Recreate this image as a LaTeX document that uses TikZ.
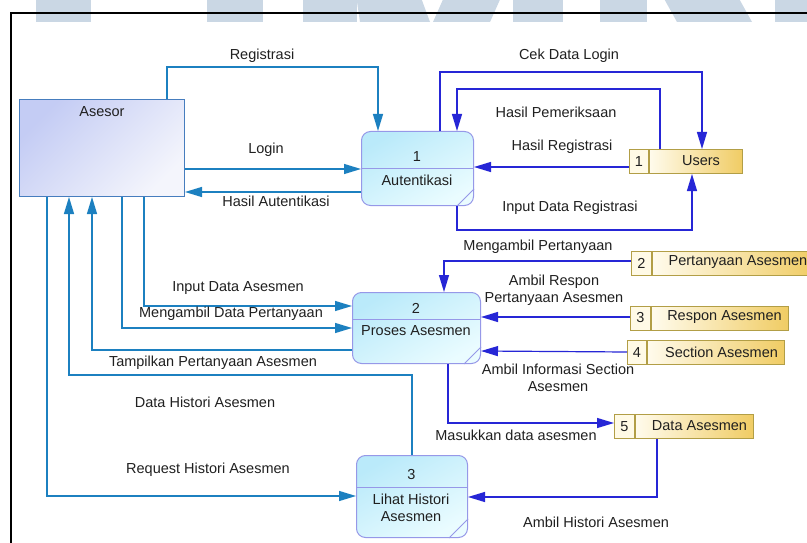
\documentclass[tikz,border=0pt]{standalone}
\usepackage{fontspec}
\setmainfont{Liberation Sans}
\usetikzlibrary{arrows.meta,shadings}

\definecolor{flowteal}{RGB}{28,128,192}
\definecolor{flowblue}{RGB}{38,38,214}
\definecolor{procedge}{RGB}{150,152,232}
\definecolor{proctop}{RGB}{186,234,250}
\definecolor{procbot}{RGB}{234,252,255}
\definecolor{extedge}{RGB}{70,125,190}
\definecolor{exttop}{RGB}{196,204,244}
\definecolor{extbot}{RGB}{244,245,252}
\definecolor{storeedge}{RGB}{178,158,70}
\definecolor{storeleft}{RGB}{255,251,236}
\definecolor{storeright}{RGB}{240,204,100}
\definecolor{storeidfill}{RGB}{255,250,230}
\definecolor{logomark}{RGB}{202,215,228}
\definecolor{ink}{RGB}{32,32,32}

\tikzset{
  txt/.style={font=\fontsize{14.5}{17}\selectfont, text=ink, inner sep=0pt, align=center},
  extent/.style={draw=extedge, line width=1pt, top color=exttop, bottom color=extbot,
    shading angle=45, inner sep=0pt, anchor=north west},
  proc/.style={draw=procedge, line width=1pt, rounded corners=9pt, top color=proctop,
    bottom color=procbot, shading angle=30, inner sep=0pt, anchor=north west},
  procline/.style={draw=procedge, line width=1pt},
  storebox/.style={draw=storeedge, line width=1pt, left color=storeleft, right color=storeright,
    minimum height=24pt, inner sep=0pt, anchor=north west},
  storeidbox/.style={draw=storeedge, line width=1pt, fill=storeidfill, minimum height=24pt,
    minimum width=19pt, inner sep=0pt, anchor=north east},
  flowA/.style={draw=flowteal, line width=1.2pt, -{Triangle[length=17pt,width=10pt]}},
  flowB/.style={draw=flowblue, line width=1.2pt, -{Triangle[length=17pt,width=10pt]}},
}

\begin{document}
\begin{tikzpicture}[x=1pt,y=-1pt]
\useasboundingbox (0,0) rectangle (807,543);
\fill[white] (0,0) rectangle (807,543);

% logo strip along the top edge
\fill[logomark] (36,-5) rectangle (91,22);
\fill[logomark] (207,-5) rectangle (263,22);
\fill[logomark] (303,-5) rectangle (357,22);
\fill[logomark] (356,-5) -- (420,-5) -- (430,22) -- (360,22) -- cycle;
\fill[logomark] (445,-5) -- (502,-5) -- (490,22) -- (433,22) -- cycle;
\fill[logomark] (513,-5) rectangle (563,22);
\fill[logomark] (600,-5) rectangle (647,22);
\fill[logomark] (662,-5) -- (737,-5) -- (752,22) -- (677,22) -- cycle;
\fill[logomark] (775,-5) rectangle (812,22);

% page frame
\draw[black, line width=1.2pt] (11,550) -- (11,13) -- (815,13);

% external entity
\node[extent, minimum width=165pt, minimum height=97pt] (asesor) at (19,99) {};
\node[txt] (asesorname) at (102,112) {Asesor};

% process 1
\node[proc, minimum width=112pt, minimum height=74pt] (p1) at (361,131) {};
\draw[procline] (p1.west |- 0,168) -- (p1.east |- 0,168);
\draw[procline] ([yshift=17pt]p1.south east) -- ([xshift=-17pt]p1.south east);
\node[txt] (p1num) at (417,157) {1};
\node[txt] (p1name) at (417,180) {Autentikasi};

% process 2
\node[proc, minimum width=128pt, minimum height=71pt] (p2) at (352,292) {};
\draw[procline] (p2.west |- 0,319) -- (p2.east |- 0,319);
\draw[procline] ([yshift=17pt]p2.south east) -- ([xshift=-17pt]p2.south east);
\node[txt] (p2num) at (416,308) {2};
\node[txt] (p2name) at (416,331) {Proses Asesmen};

% process 3
\node[proc, minimum width=111pt, minimum height=82pt] (p3) at (356,455) {};
\draw[procline] (p3.west |- 0,487) -- (p3.east |- 0,487);
\draw[procline] ([yshift=19pt]p3.south east) -- ([xshift=-19pt]p3.south east);
\node[txt] (p3num) at (411.5,475) {3};
\node[txt] (p3name) at (411,508) {Lihat Histori\\Asesmen};

% data stores
\node[storebox, minimum width=93pt] (s1) at (649,149) {};
\node[storeidbox] (s1id) at (s1.north west) {};
\node[txt] (s1num) at (s1id.center) {1};
\node[txt] (s1name) at (701,161) {Users};

\node[storebox, minimum width=162pt] (s2) at (652,250.5) {};
\node[storeidbox, minimum width=20pt] (s2id) at (s2.north west) {};
\node[txt] (s2num) at (s2id.center) {2};
\node[txt] (s2name) at (738,262.5) {Pertanyaan Asesmen};

\node[storebox, minimum width=137pt] (s3) at (651,305.5) {};
\node[storeidbox, minimum width=20pt] (s3id) at (s3.north west) {};
\node[txt] (s3num) at (s3id.center) {3};
\node[txt] (s3name) at (724.5,317.5) {Respon Asesmen};

\node[storebox, minimum width=137pt] (s4) at (647,340) {};
\node[storeidbox] (s4id) at (s4.north west) {};
\node[txt] (s4num) at (s4id.center) {4};
\node[txt] (s4name) at (721.5,352) {Section Asesmen};

\node[storebox, minimum width=118pt] (s5) at (635,414) {};
\node[storeidbox, minimum width=20pt] (s5id) at (s5.north west) {};
\node[txt] (s5num) at (s5id.center) {5};
\node[txt] (s5name) at (699.5,426) {Data Asesmen};

% flows between the entity and the processes
\draw[flowA] (167,0 |- asesor.north) |- (378,67) -- (378,0 |- p1.north);
\draw[flowA] (asesor.east |- 0,169) -- (p1.west |- 0,169);
\draw[flowA] (p1.west |- 0,192) -- (asesor.east |- 0,192);
\draw[flowA] (144,0 |- asesor.south) |- (p2.west |- 0,306);
\draw[flowA] (122,0 |- asesor.south) |- (p2.west |- 0,328);
\draw[flowA] (p2.west |- 0,350) -| (92,0 |- asesor.south);
\draw[flowA] (412,0 |- p3.north) |- (69,375) -- (69,0 |- asesor.south);
\draw[flowA] (47,0 |- asesor.south) |- (p3.west |- 0,496);

% flows between the processes and the stores
\draw[flowB] (440,0 |- p1.north) |- (702,72) -- (702,0 |- s1.north);
\draw[flowB] (660,0 |- s1.north) |- (457,89) -- (457,0 |- p1.north);
\draw[flowB] (s1id.west |- 0,167) -- (p1.east |- 0,167);
\draw[flowB] (457,0 |- p1.south) |- (692,230) -- (692,0 |- s1.south);
\draw[flowB] (s2id.west |- 0,261) -| (444,0 |- p2.north);
\draw[flowB] (s3id.west |- 0,317) -- (p2.east |- 0,317);
\draw[flowB] (s4id.west |- 0,352) -- (p2.east |- 0,351);
\draw[flowB] (448,0 |- p2.south) |- (s5id.west |- 0,423);
\draw[flowB] (657,0 |- s5.south) |- (p3.east |- 0,497);

% flow labels
\node[txt] (lregistrasi) at (262,56) {Registrasi};
\node[txt] (llogin) at (266,150) {Login};
\node[txt] (lhasilaut) at (276,201) {Hasil Autentikasi};
\node[txt] (lcek) at (569,56) {Cek Data Login};
\node[txt] (lperiksa) at (556,112) {Hasil Pemeriksaan};
\node[txt] (lhasilreg) at (562,147) {Hasil Registrasi};
\node[txt] (linputreg) at (570,208) {Input Data Registrasi};
\node[txt] (lambiltanya) at (538,247) {Mengambil Pertanyaan};
\node[txt] (lrespon) at (554,290.5) {Ambil Respon\\Pertanyaan Asesmen};
\node[txt] (lsection) at (558,378) {Ambil Informasi Section\\Asesmen};
\node[txt] (lmasuk) at (516,435) {Masukkan data asesmen};
\node[txt] (lambilhist) at (596,522) {Ambil Histori Asesmen};
\node[txt] (lrequest) at (208,470) {Request Histori Asesmen};
\node[txt] (ldatahist) at (205,402) {Data Histori Asesmen};
\node[txt] (ltampil) at (213,363) {Tampilkan Pertanyaan Asesmen};
\node[txt] (linputases) at (238,288) {Input Data Asesmen};
\node[txt] (lmengambil) at (231,314) {Mengambil Data Pertanyaan};
\end{tikzpicture}
\end{document}
